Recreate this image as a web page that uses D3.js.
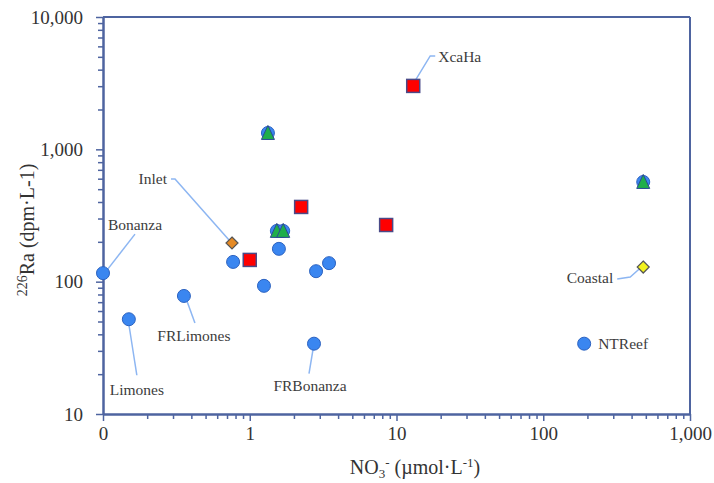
<!DOCTYPE html>
<html>
<head>
<meta charset="utf-8">
<script src="https://cdn.jsdelivr.net/npm/d3@7"></script>
<style>
  body { margin: 0; background: #fff; }
  svg { display: block; font-family: "Liberation Serif", "Times New Roman", serif; }
</style>
</head>
<body>
<svg id="chart" width="714" height="483"></svg>
<script>
// axis ticks
var xTicks = [0.1, 1, 10, 100, 1000];
var xTickLabels = ["0", "1", "10", "100", "1,000"];
var yTicks = [10, 100, 1000, 10000];
var yTickLabels = ["10", "100", "1,000", "10,000"];

// blue circles (all sites), NO3 vs 226Ra
var circleX = [0.1, 0.15, 0.356, 0.77, 1.25, 1.58, 2.83, 3.47, 2.74, 190, 1.33, 1.53, 1.69, 480];
var circleY = [116, 52, 78, 141, 93, 177, 120, 138, 34, 34, 1330, 242, 242, 567];
// green triangles
var triX = [1.33, 1.53, 1.69, 480];
var triY = [1330, 242, 242, 567];
// red squares
var sqX = [13.0, 2.24, 8.5, 1.0];
var sqY = [3015, 367, 268, 146];
// diamonds: Inlet, Coastal
var diaX = [0.757, 480];
var diaY = [196, 129];

// named sites
var labelNames = ["XcaHa", "Inlet", "Bonanza", "Limones", "FRLimones", "FRBonanza", "Coastal", "NTReef"];
var labelX = [13.0, 0.757, 0.1, 0.15, 0.356, 2.74, 480, 190];
var labelY = [3015, 196, 116, 52, 78, 34, 129, 34];

// label layout, px offsets from the point: text pos, anchor, leader points
var labelLayout = [
    {tx: 25, ty: -29, anchor: "start", leader: [[0, -2], [17, -30], [22, -30]]},
    {tx: -65, ty: -64, anchor: "end", leader: [[-3, -3], [-57, -64], [-61, -64]]},
    {tx: 32, ty: -49, anchor: "middle", leader: [[32, -39], [4, -3]]},
    {tx: 8, ty: 70, anchor: "middle", leader: [[8, 56], [0, 5]]},
    {tx: 10, ty: 40, anchor: "middle", leader: [[11, 27], [3, 5]]},
    {tx: -4, ty: 42, anchor: "middle", leader: [[-5, 30], [-1, 6]]},
    {tx: -30, ty: 11, anchor: "end", leader: [[-26, 12], [-13, 10], [-4, 2]]},
    {tx: 14, ty: 0, anchor: "start", leader: null}
];

var axisColor = "#4e64a0";
var margin = {left: 103, right: 24, top: 17, bottom: 69};
var svg = d3.select("#chart");
var W = +svg.attr("width"), H = +svg.attr("height");

var x = d3.scaleLog().domain([0.1, 1000]).range([margin.left, W - margin.right]);
var y = d3.scaleLog().domain([10, 10000]).range([H - margin.bottom, margin.top]);

function minorTicks(lo, hi) {
    var out = [];
    for (var d = lo; d < hi; d *= 10) {
        for (var k = 2; k <= 9; k++) out.push(d * k);
    }
    return out;
}

// frame top + right
svg.append("line").attr("x1", x.range()[0]).attr("x2", x.range()[1])
    .attr("y1", y.range()[1]).attr("y2", y.range()[1])
    .attr("stroke", axisColor).attr("stroke-width", 2);
svg.append("line").attr("x1", x.range()[1]).attr("x2", x.range()[1])
    .attr("y1", y.range()[0]).attr("y2", y.range()[1])
    .attr("stroke", axisColor).attr("stroke-width", 2);

// x axis
var gx = svg.append("g").attr("transform", `translate(0,${y.range()[0]})`);
gx.append("g").call(d3.axisBottom(x).tickValues(minorTicks(0.1, 1000)).tickFormat("").tickSize(5).tickSizeOuter(0));
gx.append("g").call(d3.axisBottom(x).tickValues(xTicks).tickFormat((d, i) => xTickLabels[i]).tickSize(7).tickSizeOuter(0).tickPadding(6));

// y axis
var gy = svg.append("g").attr("transform", `translate(${x.range()[0]},0)`);
gy.append("g").call(d3.axisLeft(y).tickValues(minorTicks(10, 10000)).tickFormat("").tickSize(5).tickSizeOuter(0));
gy.append("g").call(d3.axisLeft(y).tickValues(yTicks).tickFormat((d, i) => yTickLabels[i]).tickSize(7).tickSizeOuter(0).tickPadding(13));

svg.selectAll(".domain").attr("stroke", axisColor).attr("stroke-width", 2);
svg.selectAll(".tick line").attr("stroke", axisColor).attr("stroke-width", 1.5);
svg.selectAll(".tick text")
    .attr("fill", "#333")
    .style("font-size", "19px")
    .style("font-family", "'Liberation Serif', serif");

// axis titles
var xt = svg.append("text")
    .attr("x", 415).attr("y", 474)
    .attr("text-anchor", "middle")
    .attr("fill", "#333")
    .style("font-size", "20px");
xt.append("tspan").text("NO");
xt.append("tspan").text("3").attr("dy", 4).style("font-size", "13px");
xt.append("tspan").text("-").attr("dy", -11).style("font-size", "13px");
xt.append("tspan").text(" (\u00b5mol\u00b7L").attr("dy", 7);
xt.append("tspan").text("-1").attr("dy", -7).style("font-size", "13px");
xt.append("tspan").text(")").attr("dy", 7);

var yt = svg.append("text")
    .attr("transform", "translate(34,230) rotate(-90)")
    .attr("text-anchor", "middle")
    .attr("fill", "#333")
    .style("font-size", "20px");
yt.append("tspan").text("226").attr("dy", -7).style("font-size", "14px");
yt.append("tspan").text("Ra (dpm\u00b7L-1)").attr("dy", 7);

// leader lines
var line = d3.line().curve(d3.curveLinear);
labelNames.forEach(function (name, i) {
    var lay = labelLayout[i];
    var px = x(labelX[i]), py = y(labelY[i]);
    if (lay.leader) {
        svg.append("path")
            .attr("d", line(lay.leader.map(p => [px + p[0], py + p[1]])))
            .attr("fill", "none")
            .attr("stroke", "#8db6f2")
            .attr("stroke-width", 1.5);
    }
});

// circles
svg.append("g").selectAll("circle")
    .data(d3.range(circleX.length))
    .join("circle")
    .attr("cx", i => x(circleX[i]))
    .attr("cy", i => y(circleY[i]))
    .attr("r", 6.5)
    .attr("fill", "#3a86f0")
    .attr("stroke", "#2c62c0")
    .attr("stroke-width", 1);

// triangles over circles
svg.append("g").selectAll("path")
    .data(d3.range(triX.length))
    .join("path")
    .attr("d", "M0,-7.5L6.5,6.5L-6.5,6.5Z")
    .attr("transform", i => `translate(${x(triX[i])},${y(triY[i])})`)
    .attr("fill", "#1fae4a")
    .attr("stroke", "#2b4a94")
    .attr("stroke-width", 1);

// squares
svg.append("g").selectAll("rect")
    .data(d3.range(sqX.length))
    .join("rect")
    .attr("x", i => x(sqX[i]) - 6.5)
    .attr("y", i => y(sqY[i]) - 6.5)
    .attr("width", 13)
    .attr("height", 13)
    .attr("fill", "#ff0000")
    .attr("stroke", "#4a4a88")
    .attr("stroke-width", 1.5);

// diamonds
var diaFill = ["#e58a25", "#f2f21e"];
svg.append("g").selectAll("path")
    .data(d3.range(diaX.length))
    .join("path")
    .attr("d", "M0,-6L6,0L0,6L-6,0Z")
    .attr("transform", i => `translate(${x(diaX[i])},${y(diaY[i])})`)
    .attr("fill", i => diaFill[i])
    .attr("stroke", "#555")
    .attr("stroke-width", 1.2);

// labels
labelNames.forEach(function (name, i) {
    var lay = labelLayout[i];
    svg.append("text")
        .attr("x", x(labelX[i]) + lay.tx)
        .attr("y", y(labelY[i]) + lay.ty)
        .attr("dy", "0.35em")
        .attr("text-anchor", lay.anchor)
        .attr("fill", "#3c3c3c")
        .style("font-size", "15.5px")
        .text(name);
});
</script>
</body>
</html>
